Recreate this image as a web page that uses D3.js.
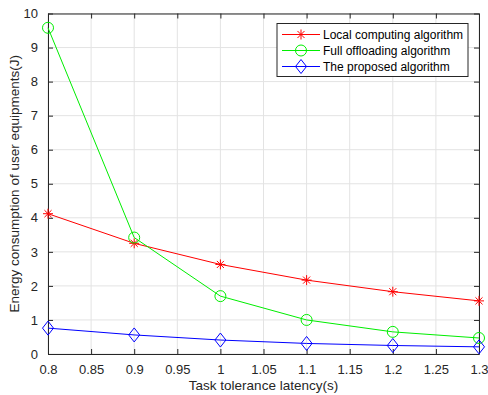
<!DOCTYPE html>
<html>
<head>
<meta charset="utf-8">
<script src="https://cdn.jsdelivr.net/npm/d3@7"></script>
<style>
body { margin: 0; background: #fff; }
text { font-family: "Liberation Sans", Arial, sans-serif; }
</style>
</head>
<body>
<svg id="chart" width="488" height="395"></svg>
<script>
// data
const latency = [0.8, 0.9, 1.0, 1.1, 1.2, 1.3];
const localEnergy = [4.12, 3.25, 2.63, 2.17, 1.83, 1.56];
const fullEnergy = [9.58, 3.42, 1.70, 1.00, 0.65, 0.47];
const proposedEnergy = [0.76, 0.56, 0.41, 0.31, 0.25, 0.21];
const seriesNames = ["Local computing algorithm", "Full offloading algorithm", "The proposed algorithm"];
const xTicks = [0.8, 0.85, 0.9, 0.95, 1, 1.05, 1.1, 1.15, 1.2, 1.25, 1.3];
const yTicks = [0, 1, 2, 3, 4, 5, 6, 7, 8, 9, 10];

const margin = {top: 13.5, right: 9, bottom: 41, left: 48};
const width = 488, height = 395;

const svg = d3.select("#chart");

let x = d3.scaleLinear().domain([0.8, 1.3]).range([margin.left, width - margin.right]);
let y = d3.scaleLinear().domain([0, 10]).range([height - margin.bottom, margin.top]);

// grid
svg.append("g").selectAll("line").data(xTicks).enter().append("line")
	.attr("x1", (d) => x(d)).attr("x2", (d) => x(d))
	.attr("y1", y(0)).attr("y2", y(10))
	.attr("stroke", "#e3e3e3").attr("stroke-width", 1);
svg.append("g").selectAll("line").data(yTicks).enter().append("line")
	.attr("x1", x(0.8)).attr("x2", x(1.3))
	.attr("y1", (d) => y(d)).attr("y2", (d) => y(d))
	.attr("stroke", "#e3e3e3").attr("stroke-width", 1);

// axes (ticks inward on all four sides)
function styleAxis(g) {
	g.select(".domain").attr("stroke", "#262626");
	g.selectAll(".tick line").attr("stroke", "#262626");
	g.selectAll(".tick text").attr("fill", "#262626").style("font-size", "13px");
}
svg.append("g").attr("transform", `translate(0,${y(0)})`)
	.call(d3.axisBottom(x).tickValues(xTicks).tickFormat(d3.format("")).tickSizeInner(-5).tickSizeOuter(0).tickPadding(11))
	.call(styleAxis);
svg.append("g").attr("transform", `translate(0,${y(10)})`)
	.call(d3.axisTop(x).tickValues(xTicks).tickFormat("").tickSizeInner(-5).tickSizeOuter(0))
	.call(styleAxis);
svg.append("g").attr("transform", `translate(${x(0.8)},0)`)
	.call(d3.axisLeft(y).tickValues(yTicks).tickSizeInner(-5).tickSizeOuter(0).tickPadding(10))
	.call(styleAxis);
svg.append("g").attr("transform", `translate(${x(1.3)},0)`)
	.call(d3.axisRight(y).tickValues(yTicks).tickFormat("").tickSizeInner(-5).tickSizeOuter(0))
	.call(styleAxis);

// axis labels
svg.append("text").attr("x", (x(0.8) + x(1.3)) / 2).attr("y", 390)
	.attr("text-anchor", "middle").style("font-size", "13.5px").attr("fill", "#262626")
	.text("Task tolerance latency(s)");
svg.append("text").attr("transform", `translate(19,${(y(0) + y(10)) / 2}) rotate(-90)`)
	.attr("text-anchor", "middle").style("font-size", "13.5px").attr("fill", "#262626")
	.text("Energy consumption of user equipments(J)");

// markers
function star(g, cx, cy, c) {
	let r = 5;
	[0, 45, 90, 135].forEach((a) => {
		let dx = r * Math.cos(a * Math.PI / 180), dy = r * Math.sin(a * Math.PI / 180);
		g.append("line").attr("x1", cx - dx).attr("x2", cx + dx).attr("y1", cy - dy).attr("y2", cy + dy)
			.attr("stroke", c).attr("stroke-width", 1);
	});
}
function circle(g, cx, cy, c) {
	g.append("circle").attr("cx", cx).attr("cy", cy).attr("r", 5.5)
		.attr("fill", "none").attr("stroke", c).attr("stroke-width", 1);
}
function diamond(g, cx, cy, c) {
	let w = 5.5, h = 7;
	g.append("path").attr("d", `M${cx},${cy - h}L${cx + w},${cy}L${cx},${cy + h}L${cx - w},${cy}Z`)
		.attr("fill", "none").attr("stroke", c).attr("stroke-width", 1);
}

const series = [
	{values: localEnergy, color: "#ff0000", marker: star},
	{values: fullEnergy, color: "#00ee00", marker: circle},
	{values: proposedEnergy, color: "#0000ff", marker: diamond}
];

let line = d3.line().x((d) => x(d[0])).y((d) => y(d[1]));

series.forEach((s) => {
	let pts = latency.map((l, i) => [l, s.values[i]]);
	svg.append("path").attr("d", line(pts)).attr("fill", "none")
		.attr("stroke", s.color).attr("stroke-width", 1);
	let g = svg.append("g");
	pts.forEach((p) => s.marker(g, x(p[0]), y(p[1]), s.color));
});

// legend
let lg = svg.append("g").attr("transform", "translate(277,23.5)");
lg.append("rect").attr("width", 191).attr("height", 53)
	.attr("fill", "#fff").attr("stroke", "#262626").attr("stroke-width", 1);
series.forEach((s, i) => {
	let ly = 11 + i * 16;
	lg.append("line").attr("x1", 5).attr("x2", 43).attr("y1", ly).attr("y2", ly)
		.attr("stroke", s.color).attr("stroke-width", 1);
	s.marker(lg, 24, ly, s.color);
	lg.append("text").attr("x", 46).attr("y", ly + 4).style("font-size", "12px").attr("fill", "#000")
		.text(seriesNames[i]);
});
</script>
</body>
</html>
